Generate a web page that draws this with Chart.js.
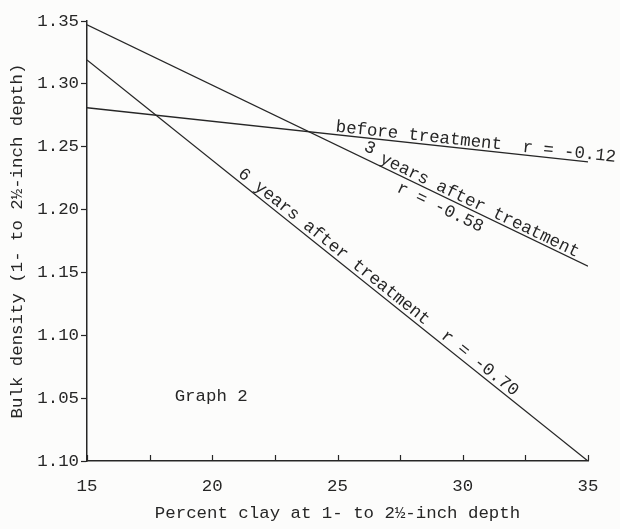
<!DOCTYPE html>
<html>
<head>
<meta charset="utf-8">
<script src="https://cdn.jsdelivr.net/npm/chart.js@4"></script>
<style>
  html, body { margin: 0; padding: 0; background: #fcfcfb; }
  #box { width: 620px; height: 529px; }
</style>
</head>
<body>
<div id="box"><canvas id="graph"></canvas></div>
<script>
// ---- Data ----
const clayPct = [15, 35];
const beforeTreatment = [1.281, 1.238];
const threeYearsAfter = [1.347, 1.155];
const sixYearsAfter = [1.319, 1.000];

// tick labels as printed (the bottom one is typed "1.10" on the original)
const yTickLabels = ['1.10', '1.05', '1.10', '1.15', '1.20', '1.25', '1.30', '1.35'];
const xTickValues = [15, 20, 25, 30, 35];
const xTickLabels = ['15', '20', '25', '30', '35'];

const ink = '#262626';
const typeFont = { family: '"Liberation Mono", "DejaVu Sans Mono", monospace', size: 17.4 };

function pts(ys) {
  return clayPct.map((x, i) => ({ x: x, y: ys[i] }));
}

// labels written along the lines: dataset, start x (data), offset from line (px, negative = above)
const lineNotes = [
  { ds: 0, text: 'before treatment  r = -0.12', at: 24.9, off: -3 },
  { ds: 1, text: '3', at: 25.9, off: -7 },
  { ds: 1, text: 'years after treatment', at: 26.6, off: -3 },
  { ds: 1, text: 'r = -0.58', at: 27.6, off: 16 },
  { ds: 2, text: '6 years after treatment', at: 20.9, off: -4 },
  { ds: 2, text: 'r = -0.70', at: 29.0, off: -4 }
];

const notesPlugin = {
  id: 'notes',
  afterDatasetsDraw(chart) {
    const { ctx, scales: { x, y } } = chart;
    ctx.save();
    ctx.fillStyle = ink;
    ctx.font = typeFont.size + 'px ' + typeFont.family;
    ctx.textBaseline = 'alphabetic';
    ctx.textAlign = 'left';

    lineNotes.forEach(n => {
      const d = chart.data.datasets[n.ds].data;
      const x0 = x.getPixelForValue(d[0].x), y0 = y.getPixelForValue(d[0].y);
      const x1 = x.getPixelForValue(d[1].x), y1 = y.getPixelForValue(d[1].y);
      const ang = Math.atan2(y1 - y0, x1 - x0);
      const t = (n.at - d[0].x) / (d[1].x - d[0].x);
      const px = x0 + (x1 - x0) * t - Math.sin(ang) * n.off;
      const py = y0 + (y1 - y0) * t + Math.cos(ang) * n.off;
      ctx.save();
      ctx.translate(px, py);
      ctx.rotate(ang);
      ctx.fillText(n.text, 0, 0);
      ctx.restore();
    });

    // "Graph 2"
    ctx.fillText('Graph 2', x.getPixelForValue(18.5), y.getPixelForValue(1.048));

    // x ticks point inward
    ctx.strokeStyle = ink;
    ctx.lineWidth = 1.2;
    for (let v = 15; v <= 35; v += 2.5) {
      const px = Math.round(x.getPixelForValue(v)) + 0.5;
      ctx.beginPath();
      ctx.moveTo(px, y.bottom);
      ctx.lineTo(px, y.bottom - 6);
      ctx.stroke();
    }
    ctx.restore();
  }
};

function lineSet(label, ys) {
  return {
    label: label,
    data: pts(ys),
    borderColor: ink,
    borderWidth: 1.3,
    pointRadius: 0,
    fill: false,
    tension: 0
  };
}

new Chart(document.getElementById('graph'), {
  type: 'line',
  data: {
    datasets: [
      lineSet('before treatment', beforeTreatment),
      lineSet('3 years after treatment', threeYearsAfter),
      lineSet('6 years after treatment', sixYearsAfter)
    ]
  },
  options: {
    responsive: true,
    maintainAspectRatio: false,
    animation: false,
    layout: { padding: { top: 21, right: 32, left: 0, bottom: 0 } },
    plugins: { legend: { display: false }, tooltip: { enabled: false } },
    scales: {
      x: {
        type: 'linear',
        min: 15,
        max: 35,
        afterFit: s => { s.height = 68; },
        afterBuildTicks: s => { s.ticks = xTickValues.map(v => ({ value: v })); },
        ticks: {
          color: ink,
          font: typeFont,
          padding: 15,
          maxRotation: 0,
          callback: (v, i) => xTickLabels[i]
        },
        grid: { display: true, drawOnChartArea: false, drawTicks: false },
        border: { display: true, color: ink, width: 1.5 },
        title: {
          display: true,
          text: 'Percent clay at 1- to 2½-inch depth',
          color: ink,
          font: typeFont,
          padding: { top: 0, bottom: 5 }
        }
      },
      y: {
        type: 'linear',
        min: 1.0,
        max: 1.35,
        afterFit: s => { s.width = 87; },
        afterBuildTicks: s => { s.ticks = yTickLabels.map((t, i) => ({ value: 1.0 + i * 0.05 })); },
        ticks: {
          color: ink,
          font: typeFont,
          padding: 2,
          callback: (v, i) => yTickLabels[i]
        },
        grid: { display: true, drawOnChartArea: false, drawTicks: true, tickLength: 6, tickColor: ink, tickWidth: 1.2 },
        border: { display: true, color: ink, width: 1.5 },
        title: {
          display: true,
          text: 'Bulk density (1- to 2½-inch depth)',
          color: ink,
          font: typeFont,
          padding: { top: 7, bottom: 0 }
        }
      }
    }
  },
  plugins: [notesPlugin]
});
</script>
</body>
</html>
